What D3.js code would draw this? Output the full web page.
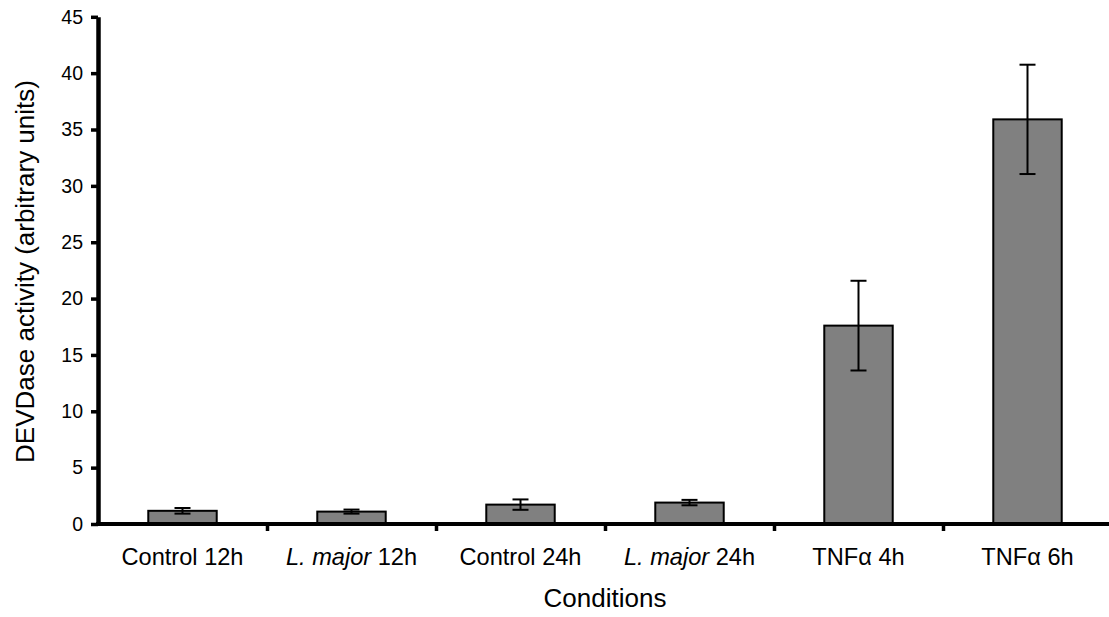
<!DOCTYPE html>
<html>
<head>
<meta charset="utf-8">
<script src="https://cdn.jsdelivr.net/npm/d3@7"></script>
<style>
  body { margin: 0; background: #fff; }
  svg { display: block; font-family: "Liberation Sans", Arial, sans-serif; }
</style>
</head>
<body>
<svg id="chart"></svg>
<script>
// Data
const conditions = ["Control 12h", "L. major 12h", "Control 24h", "L. major 24h", "TNFα 4h", "TNFα 6h"];
const activity = [1.17, 1.1, 1.72, 1.9, 17.6, 35.9];
const errors = [0.25, 0.18, 0.46, 0.24, 3.98, 4.85];
const yTicks = [0, 5, 10, 15, 20, 25, 30, 35, 40, 45];

const data = conditions.map(function(c, i) {
  return { name: c, value: activity[i], err: errors[i] };
});

// SVG configurations
const width = 1109;
const height = 617;
const plot = { left: 98, right: 1112, top: 16.8, bottom: 524 };

const svg = d3.select("#chart")
              .attr("width", width)
              .attr("height", height);

// Scales
const xScale = d3.scaleBand()
                 .domain(conditions)
                 .range([plot.left, plot.right])
                 .paddingInner(0)
                 .paddingOuter(0);
const yScale = d3.scaleLinear()
                 .domain([0, 45])
                 .range([plot.bottom, plot.top]);

const barWidth = xScale.bandwidth() * 0.405;

// Bars
svg.selectAll(".bar")
  .data(data)
  .join("rect")
    .attr("class", "bar")
    .attr("x", function(d) { return xScale(d.name) + (xScale.bandwidth() - barWidth) / 2; })
    .attr("y", function(d) { return yScale(d.value); })
    .attr("width", barWidth)
    .attr("height", function(d) { return yScale(0) - yScale(d.value); })
    .attr("fill", "#808080")
    .attr("stroke", "#000")
    .attr("stroke-width", 2);

// Error bars
const capHalf = 8;
const errG = svg.selectAll(".err")
  .data(data)
  .join("g")
    .attr("class", "err")
    .attr("stroke", "#000")
    .attr("stroke-width", 2);
errG.append("line")
    .attr("x1", function(d) { return xScale(d.name) + xScale.bandwidth() / 2; })
    .attr("x2", function(d) { return xScale(d.name) + xScale.bandwidth() / 2; })
    .attr("y1", function(d) { return yScale(d.value + d.err); })
    .attr("y2", function(d) { return yScale(d.value - d.err); });
errG.append("line")
    .attr("x1", function(d) { return xScale(d.name) + xScale.bandwidth() / 2 - capHalf; })
    .attr("x2", function(d) { return xScale(d.name) + xScale.bandwidth() / 2 + capHalf; })
    .attr("y1", function(d) { return yScale(d.value + d.err); })
    .attr("y2", function(d) { return yScale(d.value + d.err); });
errG.append("line")
    .attr("x1", function(d) { return xScale(d.name) + xScale.bandwidth() / 2 - capHalf; })
    .attr("x2", function(d) { return xScale(d.name) + xScale.bandwidth() / 2 + capHalf; })
    .attr("y1", function(d) { return yScale(d.value - d.err); })
    .attr("y2", function(d) { return yScale(d.value - d.err); });

// Y-axis
const yAxis = d3.axisLeft(yScale)
                .tickValues(yTicks)
                .tickSize(7)
                .tickSizeOuter(0)
                .tickPadding(8);
const yAxisG = svg.append("g")
                  .attr("transform", `translate(${plot.left},0)`)
                  .call(yAxis);
yAxisG.select(".domain").attr("stroke-width", 4.5);
yAxisG.selectAll(".tick line").attr("stroke-width", 3.5);
yAxisG.selectAll(".tick text")
      .attr("font-size", "19.5px")
      .attr("font-family", "Liberation Sans, Arial, sans-serif")
      .attr("fill", "#000");

// X-axis: boundary ticks
const xEdge = d3.scaleLinear()
                .domain([0, conditions.length])
                .range([plot.left, plot.right]);
const xTickAxis = d3.axisBottom(xEdge)
                    .tickValues(d3.range(1, conditions.length))
                    .tickSize(7)
                    .tickSizeOuter(0)
                    .tickFormat("");
const xAxisG = svg.append("g")
                  .attr("transform", `translate(0,${plot.bottom})`)
                  .call(xTickAxis);
xAxisG.select(".domain")
      .attr("d", `M${plot.left - 2},0H${plot.right}`)
      .attr("stroke-width", 4);
xAxisG.selectAll(".tick line").attr("stroke-width", 3.5);

// X-axis: category labels
const xLabelAxis = d3.axisBottom(xScale).tickSize(0).tickPadding(0);
const xLabelG = svg.append("g")
                   .attr("transform", `translate(0,${plot.bottom})`)
                   .call(xLabelAxis);
xLabelG.select(".domain").remove();
xLabelG.selectAll(".tick text")
       .attr("y", 41)
       .attr("dy", 0)
       .attr("font-size", "23.6px")
       .attr("font-family", "Liberation Sans, Arial, sans-serif")
       .attr("fill", "#000")
       .each(function(d) {
         const t = d3.select(this);
         if (d.indexOf("L. major") === 0) {
           t.text(null);
           t.append("tspan").attr("font-style", "italic").text("L. major");
           t.append("tspan").text(d.slice("L. major".length));
         }
       });

// Axis titles
svg.append("text")
   .attr("x", (plot.left + plot.right) / 2)
   .attr("y", 607)
   .attr("text-anchor", "middle")
   .attr("font-size", "26px")
   .text("Conditions");

svg.append("text")
   .attr("transform", "rotate(-90)")
   .attr("x", -271.5)
   .attr("y", 34)
   .attr("text-anchor", "middle")
   .attr("font-size", "26px")
   .text("DEVDase activity (arbitrary units)");
</script>
</body>
</html>
